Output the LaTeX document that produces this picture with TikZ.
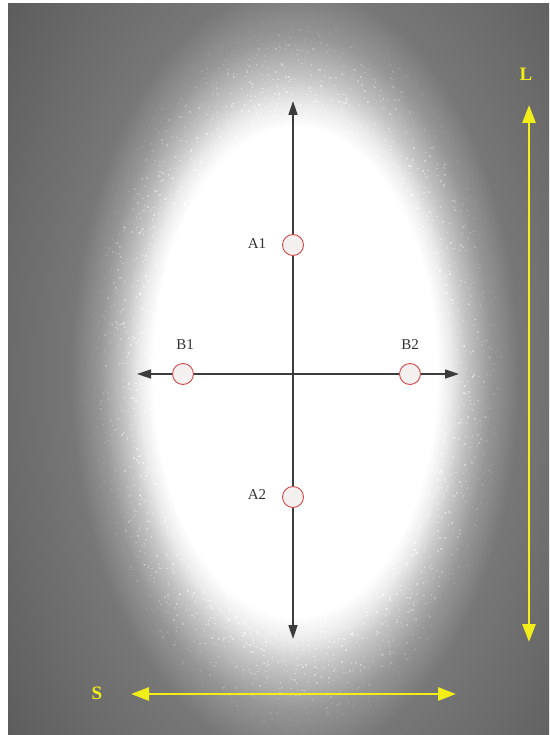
\documentclass[tikz,border=0pt]{standalone}
\usepackage{fontspec}
\setmainfont{Liberation Serif}
\usetikzlibrary{arrows.meta}
\definecolor{bggray}{HTML}{777777}
\definecolor{edgegray}{HTML}{6A6A6A}
\definecolor{cornergray}{HTML}{5C5C5C}
\definecolor{glowmid}{HTML}{C4C4C4}
\definecolor{axisgray}{HTML}{3C3C3C}
\definecolor{ptred}{HTML}{D04848}
\definecolor{ptfill}{HTML}{F4F0F0}
\definecolor{lblgray}{HTML}{333333}
\definecolor{ylw}{HTML}{F2EE1A}
\pgfdeclareradialshading{glow}{\pgfpoint{0bp}{0bp}}{color(0bp)=(white); color(7.1bp)=(white); color(7.8bp)=(glowmid!35!white); color(8.6bp)=(glowmid); color(9.8bp)=(bggray!60!glowmid); color(11.2bp)=(bggray); color(14.5bp)=(edgegray); color(18bp)=(cornergray); color(25bp)=(cornergray); color(50bp)=(cornergray)}
\tikzset{
  axis/.style={draw=axisgray, line width=1.6pt, -{Triangle[length=14pt,width=9pt]}},
  pt/.style={circle, draw=ptred, fill=ptfill, minimum size=21pt, inner sep=0pt, line width=0.9pt},
  lbl/.style={text=lblgray, font=\fontsize{15}{17}\selectfont, inner sep=0pt},
  yarrow/.style={draw=ylw, line width=2.8pt, {Triangle[length=18pt,width=13pt]}-{Triangle[length=18pt,width=13pt]}},
  ylbl/.style={text=ylw, font=\fontsize{19}{21}\selectfont\bfseries, inner sep=0pt},
  grain/.style={fill=white}
}
\begin{document}
\begin{tikzpicture}[x=1pt,y=-1pt]
\useasboundingbox (0,0) rectangle (549,735);
\fill[white] (0,0) rectangle (549,735);
\begin{scope}
\clip (8,4) rectangle (549,735);
\fill[cornergray] (8,4) rectangle (549,735);
\shade[shading=glow] (-205,-488) rectangle (795,1232);
% grain in the transition ring
\pgfmathsetseed{7}
\foreach \i in {1,...,2800}{
  \pgfmathsetmacro\t{rnd*360}
  \pgfmathsetmacro\r{0.92+0.55*rnd}
  \pgfmathsetmacro\px{295+142*\r*cos(\t)}
  \pgfmathsetmacro\py{372+244*\r*sin(\t)}
  \pgfmathsetmacro\o{max(0,min(0.7,(1.5-\r)*1.3))}
  \fill[grain, opacity=\o] (\px,\py) rectangle ++(1.4,1.4);
}
\end{scope}
% main axes
\coordinate (Vtop) at (293,101);
\coordinate (Vbot) at (293,639);
\coordinate (Hleft) at (137,374);
\coordinate (Hright) at (459,374);
\coordinate (C) at (293,374);
\draw[axis] (C) -- (Vtop);
\draw[axis] (C) -- (Vbot);
\draw[axis] (C) -- (Hleft);
\draw[axis] (C) -- (Hright);
% measuring points
\node[pt] (A1) at (293,245) {};
\node[pt] (A2) at (293,497) {};
\node[pt] (B1) at (183,374) {};
\node[pt] (B2) at (410,374) {};
\node[lbl] (A1l) at (257,244) {A1};
\node[lbl] (A2l) at (257,495) {A2};
\node[lbl] (B1l) at (185,345) {B1};
\node[lbl] (B2l) at (410,345) {B2};
% dimension arrows
\coordinate (Ltop) at (529,105);
\coordinate (Lbot) at (529,642);
\coordinate (Sleft) at (131,694);
\coordinate (Sright) at (456,694);
\draw[yarrow] (Ltop) -- (Lbot);
\draw[yarrow] (Sleft) -- (Sright);
\node[ylbl] (L) at (526,74) {L};
\node[ylbl] (S) at (97,693) {S};
\end{tikzpicture}
\end{document}
